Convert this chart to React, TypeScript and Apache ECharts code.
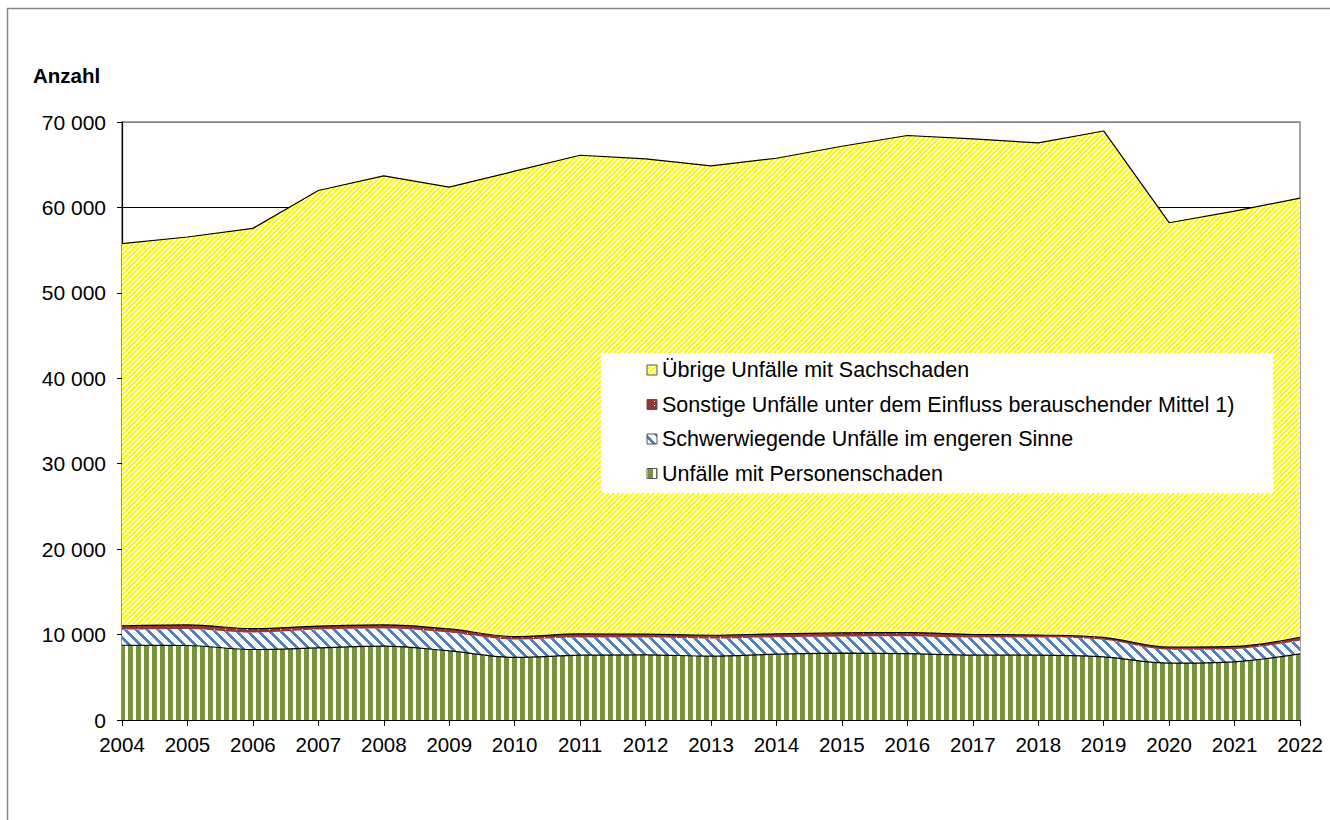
import React, { useEffect, useRef } from "react";
import * as echarts from "echarts";

const years = ["2004", "2005", "2006", "2007", "2008", "2009", "2010", "2011", "2012", "2013", "2014", "2015", "2016", "2017", "2018", "2019", "2020", "2021", "2022"];

const personenschaden = [8750, 8720, 8250, 8440, 8640, 8090, 7320, 7590, 7630, 7470, 7700, 7820, 7760, 7590, 7590, 7390, 6650, 6810, 7740];
const schwerwiegende = [1830, 1940, 1980, 2140, 2060, 2140, 2100, 2060, 2020, 2060, 1990, 1950, 2050, 2060, 2060, 1990, 1580, 1510, 1580];
const sonstige = [450, 480, 460, 420, 440, 430, 340, 420, 400, 390, 400, 420, 420, 360, 300, 290, 300, 290, 370];
const uebrige = [44730, 45400, 46860, 50980, 52560, 51710, 54480, 56040, 55630, 54940, 55670, 56970, 58190, 58010, 57600, 59280, 49680, 50960, 51400];

const seriesNames = [
  "Unfälle mit Personenschaden",
  "Schwerwiegende Unfälle im engeren Sinne",
  "Sonstige Unfälle unter dem Einfluss berauschender Mittel 1)",
  "Übrige Unfälle mit Sachschaden",
];
const legendOrder = [3, 2, 1, 0];
const yAxisTitle = "Anzahl";

const FONT = "'Liberation Sans', Arial, sans-serif";

function makeTile(w: number, h: number, fn: (x: number, y: number) => string) {
  const c = document.createElement("canvas");
  c.width = w;
  c.height = h;
  const ctx = c.getContext("2d")!;
  for (let y = 0; y < h; y++) {
    for (let x = 0; x < w; x++) {
      ctx.fillStyle = fn(x, y);
      ctx.fillRect(x, y, 1, 1);
    }
  }
  return c;
}

export default function App() {
  const ref = useRef<HTMLDivElement>(null);
  useEffect(() => {
    if (!ref.current) return;
    const chart = echarts.init(ref.current, null, { renderer: "svg" });

    const yellowTile = makeTile(5, 5, (x, y) => ((x + y) % 5 < 3 ? "#FFFF00" : "#FFFFFF"));
    const blueTile = makeTile(11, 11, (x, y) => ((((x - y) % 11) + 11) % 11 < 4 ? "#4F81BD" : "#FFFFFF"));
    const greenTile = makeTile(8, 1, (x) => (x < 5 ? "#77933C" : "#FFFFFF"));
    const redTile = makeTile(11, 4, (x, y) => (x === 5 && y === 1 ? "#FFFFFF" : "#953735"));

    const pat = (t: HTMLCanvasElement) => ({ image: t, repeat: "repeat" } as any);
    const fills = [pat(greenTile), pat(blueTile), pat(redTile), pat(yellowTile)];
    const legendFills = [pat(greenTile), pat(blueTile), pat(redTile), pat(yellowTile)];
    const dataSets = [personenschaden, schwerwiegende, sonstige, uebrige];
    const lineColors = ["#000", "#4F81BD", "#000", "#000"];
    const lineOpac = [1, 0, 1, 1];
    const smooths: any[] = [0.35, 0.35, 0.35, false];

    const legendX = 601, legendY = 353, legendW = 672, legendH = 140;
    const rowY = [370, 404.5, 439, 473.5];
    const legendEls: any[] = [
      {
        type: "rect",
        z: 150,
        shape: { x: legendX, y: legendY, width: legendW, height: legendH },
        style: { fill: "#FFFFFF" },
      },
    ];
    legendOrder.forEach((si, i) => {
      legendEls.push({
        type: "rect",
        z: 151,
        shape: { x: 647, y: rowY[i] - 5, width: 10, height: 10 },
        style: { fill: legendFills[si], stroke: "#555", lineWidth: 1 },
      });
      legendEls.push({
        type: "text",
        z: 151,
        x: 662,
        y: rowY[i],
        style: { text: seriesNames[si], font: `21.5px ${FONT}`, fill: "#000", verticalAlign: "middle" },
      });
    });

    const splitColors = ["#000", "#000", "#000", "#000", "#000", "#000", "#000", "#868686"];

    chart.setOption({
      animation: false,
      backgroundColor: "#FFFFFF",
      grid: { left: 122, right: 30, top: 122, bottom: 100, show: true, borderColor: "#868686", borderWidth: 1.5 },
      xAxis: {
        type: "category",
        data: years,
        boundaryGap: false,
        axisLine: { show: true, lineStyle: { color: "#000", width: 1.2 } },
        axisTick: { show: true, length: 6, lineStyle: { color: "#000" } },
        axisLabel: { interval: 0, color: "#000", fontSize: 20.5, fontFamily: FONT, margin: 14 },
        splitLine: { show: false },
      },
      yAxis: {
        type: "value",
        min: 0,
        max: 70000,
        interval: 10000,
        axisLine: { show: true, lineStyle: { color: "#000", width: 1.2 } },
        axisTick: { show: true, length: 5, lineStyle: { color: "#000" } },
        axisLabel: {
          color: "#000",
          fontSize: 21,
          fontFamily: FONT,
          margin: 16,
          formatter: (v: number) => String(v).replace(/\B(?=(\d{3})+(?!\d))/g, " "),
        },
        splitLine: { show: true, lineStyle: { color: splitColors, width: 1 } },
      },
      series: dataSets.map((d, i) => ({
        name: seriesNames[i],
        type: "line",
        stack: "total",
        data: d,
        symbol: "none",
        smooth: smooths[i],
        lineStyle: { color: lineColors[i], width: 1.2, opacity: lineOpac[i] },
        itemStyle: { color: lineColors[i] },
        areaStyle: { color: fills[i], opacity: 1 },
        z: 2,
      })),
      graphic: [
        {
          type: "rect",
          z: 200,
          shape: { x: 7.5, y: 8.5, width: 1400, height: 900 },
          style: { fill: "none", stroke: "#868686", lineWidth: 1.5 },
        },
        {
          type: "text",
          z: 200,
          x: 33,
          y: 75,
          style: { text: yAxisTitle, font: `bold 20.5px ${FONT}`, fill: "#000", verticalAlign: "middle" },
        },
        ...legendEls,
      ],
    });
    return () => chart.dispose();
  }, []);
  return <div ref={ref} style={{ position: "absolute", left: 0, top: 0, width: 1330, height: 820 }} />;
}
